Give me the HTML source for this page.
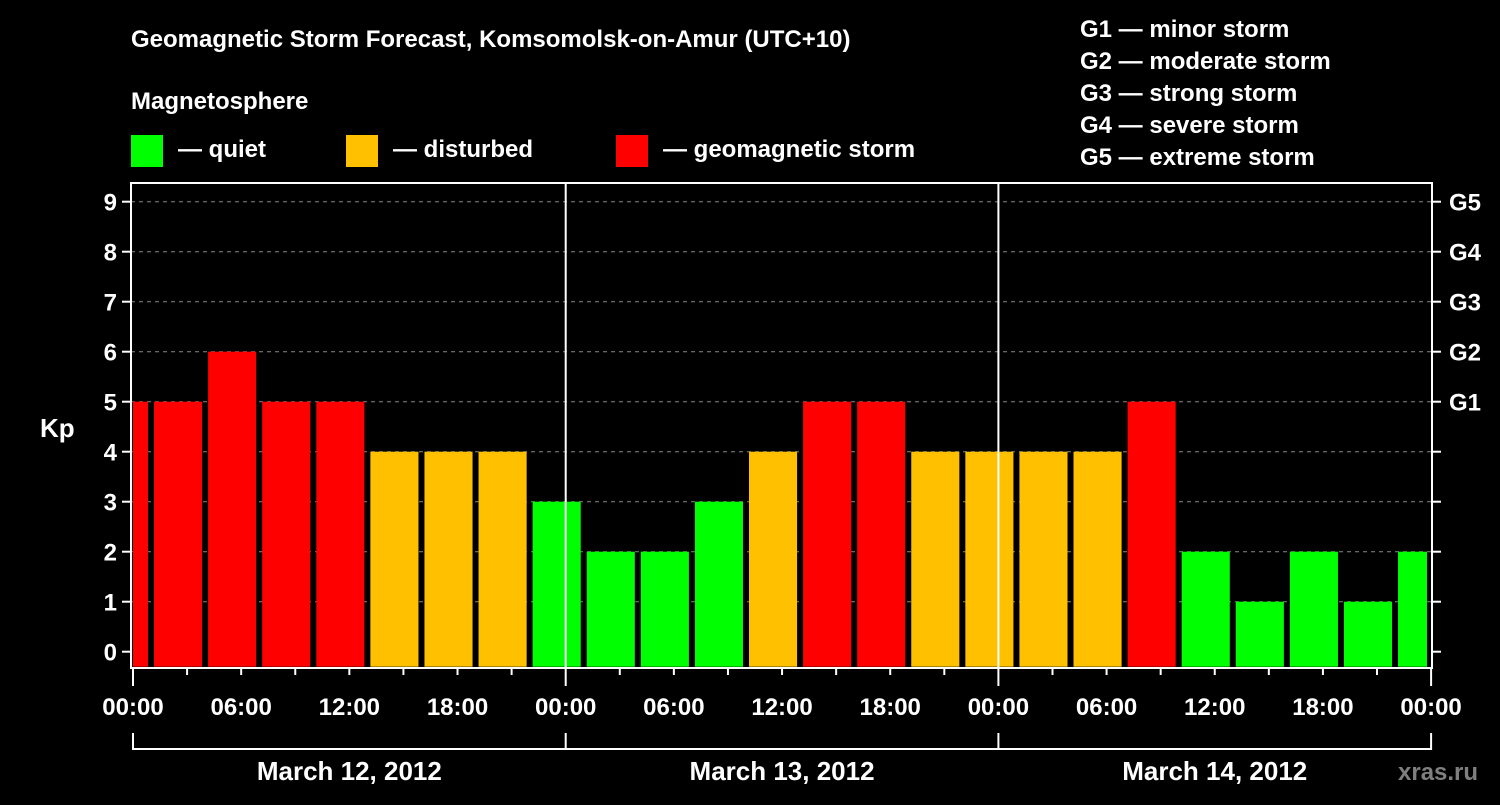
<!DOCTYPE html>
<html><head><meta charset="utf-8"><style>
body{margin:0;background:#000;}
svg text{font-family:"Liberation Sans",sans-serif;font-weight:bold;fill:#fff;}
</style></head><body>
<svg id="c" width="1500" height="800" xmlns="http://www.w3.org/2000/svg">
<rect width="1500" height="800" fill="#000"/>
<text x="131" y="47" font-size="24">Geomagnetic Storm Forecast, Komsomolsk-on-Amur (UTC+10)</text>
<text x="131" y="109" font-size="24">Magnetosphere</text>
<g><rect x="131" y="135" width="32" height="32" fill="#00ff00"/><text x="178" y="157" font-size="24">— quiet</text></g>
<g><rect x="346" y="135" width="32" height="32" fill="#ffc000"/><text x="393" y="157" font-size="24">— disturbed</text></g>
<g><rect x="616" y="135" width="32" height="32" fill="#ff0000"/><text x="663" y="157" font-size="24">— geomagnetic storm</text></g>
<g font-size="24">
<text x="1080" y="37">G1 — minor storm</text>
<text x="1080" y="69">G2 — moderate storm</text>
<text x="1080" y="101">G3 — strong storm</text>
<text x="1080" y="133">G4 — severe storm</text>
<text x="1080" y="165">G5 — extreme storm</text>
</g>
<text x="40" y="437" font-size="26">Kp</text>
<text x="1398" y="780" font-size="24" fill="#888" style="fill:#7f7f7f">xras.ru</text>
<g id="g"></g>
</svg>
<script>
const values=[5,5,6,5,5,4,4,4,3,2,2,3,4,5,5,4,4,4,4,5,2,1,2,1,2];
const days=["March 12, 2012","March 13, 2012","March 14, 2012"];
const yTicks=[0,1,2,3,4,5,6,7,8,9];
const gLabels=["G1","G2","G3","G4","G5"];
const timeLabels=["00:00","06:00","12:00","18:00"];
const NS="http://www.w3.org/2000/svg";
const g=document.getElementById('g');
const X0=133,DAY=432.7,L=131,R=1432,T=183,B=668;
const xh=h=>X0+h/24*DAY;
const y=v=>651.7-v*50;
function mk(t,a,p){const e=document.createElementNS(NS,t);for(const k in a)e.setAttribute(k,a[k]);(p||g).appendChild(e);return e;}
yTicks.forEach(v=>{
 if(v>0){const l=mk('line',{x1:L,x2:R,y1:y(v),y2:y(v),stroke:'#888','stroke-dasharray':'4,4'});
 
 }
 mk('line',{x1:L-9,x2:L,y1:y(v),y2:y(v),stroke:'#fff','stroke-width':2});
 mk('line',{x1:R,x2:R+9,y1:y(v),y2:y(v),stroke:'#fff','stroke-width':2});
 const t=mk('text',{x:L-14,y:y(v)+9,'font-size':24,'text-anchor':'end'});t.textContent=v;
 
 
});
gLabels.forEach((s,i)=>{const t=mk('text',{x:R+17,y:y(5+i)+9,'font-size':24});t.textContent=s;
 
 });
values.forEach((v,i)=>{
 let s=xh(-2+3*i)+3,e=xh(1+3*i)-3;
 s=Math.max(s,L+2);e=Math.min(e,R-5);
 const c=v>=5?'#ff0000':v>=4?'#ffc000':'#00ff00';
 const r=mk('rect',{x:s,y:y(v),width:e-s,height:y(0)-y(v)+15,fill:c});
 
 
});
mk('rect',{x:L,y:T,width:R-L,height:B-T,fill:'none',stroke:'#fff','stroke-width':2});
for(let d=1;d<days.length;d++)mk('line',{x1:xh(24*d),x2:xh(24*d),y1:T,y2:B,stroke:'#fff','stroke-width':2});
for(let h=0;h<=72;h+=3){const maj=h%24==0;mk('line',{x1:xh(h),x2:xh(h),y1:B,y2:B+(maj?18:7),stroke:'#fff','stroke-width':2});}
for(let h=0;h<=72;h+=6){const t=mk('text',{x:xh(h),y:715,'font-size':24,'text-anchor':'middle'});t.textContent=timeLabels[(h/6)%4];
 
 }
mk('line',{x1:xh(0),x2:xh(72),y1:749,y2:749,stroke:'#fff','stroke-width':2});
for(let d=0;d<=3;d++)mk('line',{x1:xh(24*d),x2:xh(24*d),y1:733,y2:750,stroke:'#fff','stroke-width':2});
days.forEach((s,d)=>{const t=mk('text',{x:xh(24*d+12),y:780,'font-size':26,'text-anchor':'middle'});t.textContent=s;
 
 });
</script>
</body></html>
